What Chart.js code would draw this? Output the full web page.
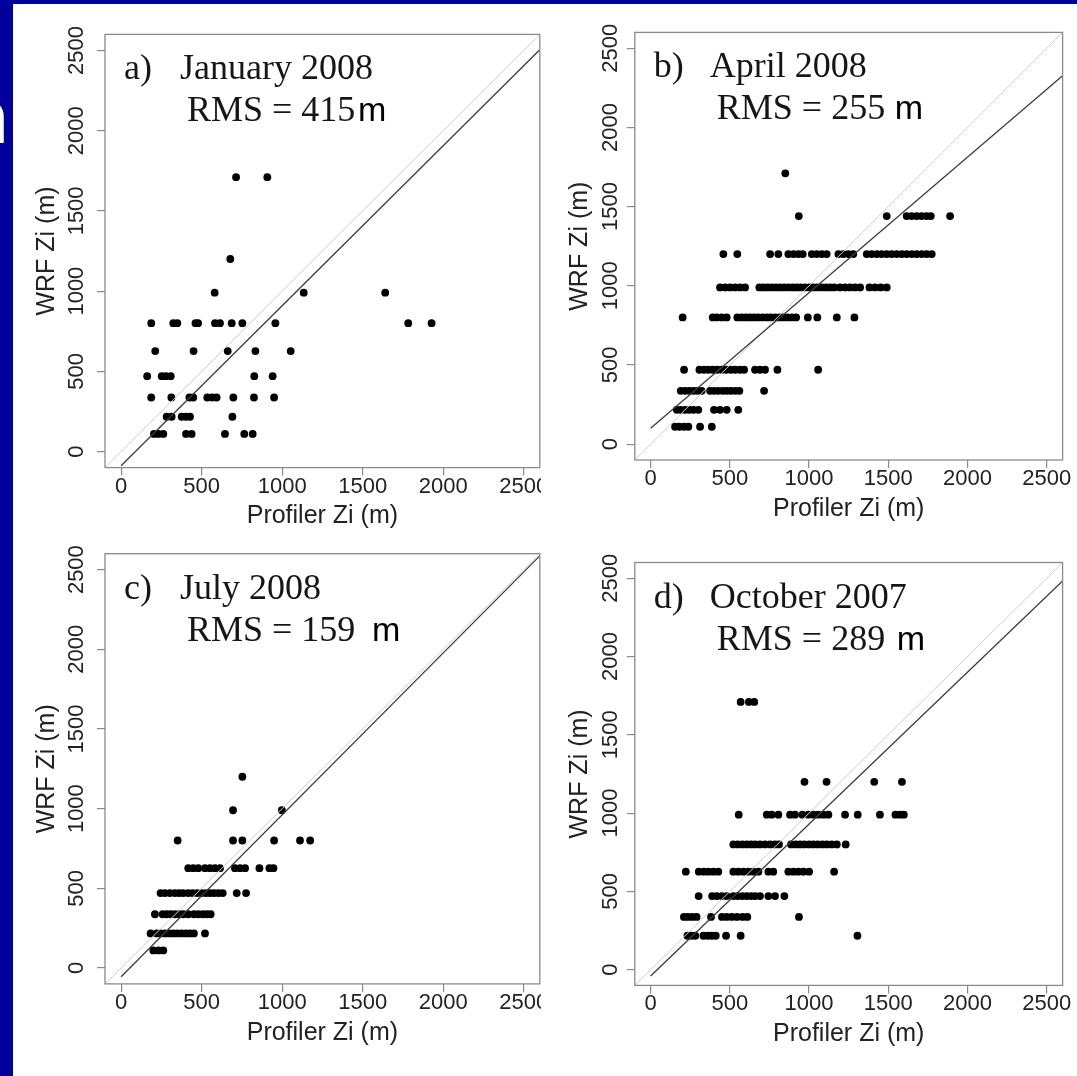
<!DOCTYPE html>
<html>
<head>
<meta charset="utf-8">
<title>WRF Zi vs profiler Zi</title>
<script src="https://cdn.jsdelivr.net/npm/chart.js@4.4.1/dist/chart.umd.min.js"></script>
<style>
  html, body { margin: 0; padding: 0; }
  body { width: 1077px; height: 1076px; background: #00009c; position: relative; overflow: hidden; }
  .slide-letter { position: absolute; left: -38px; top: 79px; font: bold 76px/76px "Liberation Sans", Arial, sans-serif; color: #fff; }
  .sheet { position: absolute; left: 13px; top: 4px; right: 0; bottom: 0; background: #fff; }
  .panel { position: absolute; overflow: hidden; background: #fff; }
  .panel canvas { display: block; }
</style>
</head>
<body>
<div class="slide-letter">n</div>
<div class="sheet"></div>
<script>
// axis range and tick marks shared by all four panels
const axisMin = -100;
const axisMax = 2600;
const tickValues = [0, 500, 1000, 1500, 2000, 2500];

// [profiler Zi, WRF Zi] in metres
const january = [
  [714, 1710], [908, 1710],
  [678, 1200],
  [581, 990], [1134, 990], [1640, 990],
  [187, 800], [324, 800], [349, 800], [462, 800], [478, 800], [583, 800], [614, 800], [687, 800], [753, 800], [958, 800], [1783, 800], [1928, 800],
  [212, 626], [450, 626], [662, 626], [834, 626], [1053, 626],
  [162, 470], [252, 470], [278, 470], [308, 470], [827, 470], [941, 470],
  [187, 337], [312, 337], [424, 337], [448, 337], [535, 337], [566, 337], [593, 337], [697, 337], [825, 337], [950, 337],
  [283, 217], [314, 217], [376, 217], [403, 217], [428, 217], [691, 217],
  [204, 110], [231, 110], [262, 110], [403, 110], [438, 110], [645, 110], [765, 110], [817, 110]
];

const april = [
  [850, 1710],
  [935, 1440], [1490, 1440], [1616, 1440], [1647, 1440], [1679, 1440], [1710, 1440], [1742, 1440], [1768, 1440], [1890, 1440],
  [459, 1200], [547, 1200], [754, 1200], [806, 1200], [869, 1200], [901, 1200], [932, 1200], [960, 1200], [1017, 1200], [1048, 1200],
  [1080, 1200], [1111, 1200], [1185, 1200], [1216, 1200], [1248, 1200], [1279, 1200], [1364, 1200], [1395, 1200], [1427, 1200], [1458, 1200],
  [1490, 1200], [1521, 1200], [1553, 1200], [1585, 1200], [1616, 1200], [1648, 1200], [1679, 1200], [1711, 1200], [1742, 1200], [1774, 1200],
  [438, 990], [470, 990], [501, 990], [533, 990], [564, 990], [596, 990], [686, 990], [711, 990], [737, 990], [764, 990],
  [791, 990], [817, 990], [842, 990], [869, 990], [897, 990], [922, 990], [947, 990], [974, 990], [1002, 990], [1027, 990],
  [1052, 990], [1080, 990], [1107, 990], [1132, 990], [1158, 990], [1195, 990], [1227, 990], [1258, 990], [1290, 990], [1322, 990],
  [1381, 990], [1416, 990], [1452, 990], [1490, 990],
  [202, 800], [392, 800], [417, 800], [449, 800], [480, 800], [547, 800], [575, 800], [602, 800], [627, 800], [653, 800],
  [680, 800], [707, 800], [733, 800], [758, 800], [785, 800], [812, 800], [838, 800], [863, 800], [891, 800], [918, 800],
  [992, 800], [1052, 800], [1175, 800], [1286, 800],
  [211, 470], [308, 470], [337, 470], [364, 470], [392, 470], [421, 470], [449, 470], [476, 470], [506, 470], [533, 470],
  [564, 470], [590, 470], [659, 470], [690, 470], [722, 470], [800, 470], [1057, 470],
  [190, 337], [217, 337], [244, 337], [270, 337], [295, 337], [322, 337], [375, 337], [400, 337], [427, 337], [455, 337],
  [480, 337], [506, 337], [533, 337], [560, 337], [716, 337],
  [165, 217], [190, 217], [217, 217], [244, 217], [270, 217], [301, 217], [400, 217], [438, 217], [480, 217], [553, 217],
  [154, 110], [181, 110], [211, 110], [238, 110], [312, 110], [386, 110]
];

const july = [
  [753, 1200],
  [695, 990], [998, 990],
  [351, 800], [695, 800], [753, 800], [950, 800], [1111, 800], [1174, 800],
  [417, 626], [448, 626], [479, 626], [521, 626], [552, 626], [583, 626], [614, 626], [707, 626], [739, 626], [770, 626],
  [859, 626], [921, 626], [946, 626],
  [245, 470], [272, 470], [303, 470], [334, 470], [361, 470], [386, 470], [417, 470], [444, 470], [473, 470], [500, 470],
  [527, 470], [552, 470], [577, 470], [604, 470], [631, 470], [718, 470], [776, 470],
  [210, 337], [258, 337], [283, 337], [308, 337], [334, 337], [361, 337], [386, 337], [417, 337], [452, 337], [479, 337],
  [507, 337], [531, 337], [556, 337],
  [183, 217], [221, 217], [245, 217], [272, 217], [299, 217], [324, 217], [349, 217], [376, 217], [403, 217], [428, 217],
  [452, 217], [521, 217],
  [200, 110], [232, 110], [262, 110]
];

const october = [
  [568, 1710], [620, 1710], [654, 1710],
  [971, 1200], [1110, 1200], [1411, 1200], [1586, 1200],
  [556, 990], [733, 990], [764, 990], [806, 990], [880, 990], [911, 990], [958, 990], [995, 990], [1027, 990], [1058, 990],
  [1090, 990], [1122, 990], [1227, 990], [1307, 990], [1447, 990], [1545, 990], [1574, 990], [1598, 990],
  [522, 800], [550, 800], [579, 800], [607, 800], [634, 800], [659, 800], [690, 800], [722, 800], [754, 800], [785, 800],
  [810, 800], [886, 800], [916, 800], [943, 800], [970, 800], [1000, 800], [1027, 800], [1055, 800], [1084, 800], [1111, 800],
  [1143, 800], [1175, 800], [1231, 800],
  [222, 626], [304, 626], [335, 626], [365, 626], [396, 626], [427, 626], [522, 626], [553, 626], [585, 626], [617, 626],
  [648, 626], [680, 626], [743, 626], [774, 626], [869, 626], [901, 626], [932, 626], [964, 626], [1000, 626], [1158, 626],
  [303, 470], [388, 470], [417, 470], [449, 470], [480, 470], [522, 470], [550, 470], [579, 470], [607, 470], [634, 470],
  [659, 470], [690, 470], [743, 470], [785, 470], [844, 470],
  [210, 337], [235, 337], [262, 337], [290, 337], [381, 337], [450, 337], [480, 337], [512, 337], [545, 337], [580, 337],
  [610, 337], [936, 337],
  [232, 217], [258, 217], [282, 217], [333, 217], [360, 217], [385, 217], [411, 217], [476, 217], [568, 217], [1305, 217]
];

const panelData = [january, april, july, october];
const panelTags = ['a)', 'b)', 'c)', 'd)'];
const monthLabels = ['January 2008', 'April 2008', 'July 2008', 'October 2007'];
const rmsValues = [415, 255, 159, 289];
// least-squares fit of WRF on profiler, drawn from x = 0
const fitIntercept = [-88, 100, -55, -40];
const fitSlope = [0.997, 0.856, 1.016, 0.97];

// where each panel sits on the page; area = plot box inside the canvas
const layout = [
  { left: 13, top: 4, width: 528, height: 536, canvasWidth: 560, area: [92, 30.4, 526.8, 463.6], tickGap: 28.5, titleGap: 58, unitX: 253 },
  { left: 541, top: 4, width: 536, height: 536, canvasWidth: 536, area: [93.8, 28.4, 521.6, 456], tickGap: 24, titleGap: 55, unitX: 260 },
  { left: 13, top: 540, width: 528, height: 536, canvasWidth: 560, area: [92, 13.7, 526.8, 443.9], tickGap: 28, titleGap: 58, unitX: 267 },
  { left: 541, top: 540, width: 536, height: 536, canvasWidth: 536, area: [93.8, 22.5, 521.6, 445.4], tickGap: 24, titleGap: 55, unitX: 262 }
];

const sans = '"Liberation Sans", Arial, sans-serif';
const serif = '"Liberation Serif", "Times New Roman", serif';
const tickFontSize = 22;
const titleFontSize = 25;
const tickLength = 8;

const probe = document.createElement('canvas').getContext('2d');
probe.font = tickFontSize + 'px ' + sans;
const halfTickLabel = probe.measureText('2500').width / 2;

// box around the plot region plus the month / RMS annotation
const panelFrame = {
  id: 'panelFrame',
  afterDatasetsDraw(chart, args, opts) {
    const { ctx } = chart;
    const { left, top, right, bottom } = chart.chartArea;
    ctx.save();
    ctx.strokeStyle = '#8a8a8a';
    ctx.lineWidth = 1.3;
    ctx.strokeRect(left, top, right - left, bottom - top);
    ctx.fillStyle = '#161616';
    ctx.textBaseline = 'alphabetic';
    ctx.textAlign = 'left';
    ctx.font = '36px ' + serif;
    ctx.fillText(opts.tag, left + 19, top + 45);
    ctx.fillText(opts.month, left + 75, top + 45);
    ctx.fillText('RMS = ' + opts.rms, left + 82, top + 87);
    ctx.fillStyle = '#000';
    ctx.font = '34px ' + sans;
    ctx.fillText('m', left + opts.unitX, top + 87);
    ctx.restore();
  }
};

const setTicks = scale => {
  scale.ticks = tickValues.map(value => ({ value }));
};

layout.forEach((cfg, i) => {
  const holder = document.createElement('div');
  holder.className = 'panel';
  holder.style.left = cfg.left + 'px';
  holder.style.top = cfg.top + 'px';
  holder.style.width = cfg.width + 'px';
  holder.style.height = cfg.height + 'px';
  const canvas = document.createElement('canvas');
  canvas.width = cfg.canvasWidth;
  canvas.height = cfg.height;
  canvas.style.width = cfg.canvasWidth + 'px';
  canvas.style.height = cfg.height + 'px';
  holder.appendChild(canvas);
  document.body.appendChild(holder);

  const [areaLeft, areaTop, areaRight, areaBottom] = cfg.area;
  const xAxisHeight = cfg.height - areaBottom;

  const oneToOne = [{ x: axisMin, y: axisMin }, { x: axisMax, y: axisMax }];
  const fitLine = [0, axisMax].map(x => ({ x, y: fitIntercept[i] + fitSlope[i] * x }));

  const tickFont = { family: sans, size: tickFontSize, lineHeight: 1 };
  const titleFont = { family: sans, size: titleFontSize, lineHeight: 1 };
  const grid = { drawOnChartArea: false, drawTicks: true, tickLength: tickLength, color: '#8a8a8a', lineWidth: 1.2 };

  new Chart(canvas, {
    type: 'scatter',
    data: {
      datasets: [
        {
          data: fitLine, showLine: true, borderColor: '#3c3c3c', borderWidth: 1.3,
          pointRadius: 0, order: 1
        },
        {
          data: oneToOne, showLine: true, borderColor: '#cdcdcd', borderWidth: 1,
          pointRadius: 0, order: 2
        },
        {
          data: panelData[i].map(([x, y]) => ({ x, y })),
          pointRadius: 3.9, pointBackgroundColor: '#000', pointBorderWidth: 0,
          showLine: false, order: 3
        }
      ]
    },
    options: {
      responsive: false,
      animation: false,
      devicePixelRatio: 1,
      layout: { padding: { left: 0, top: areaTop, right: cfg.canvasWidth - areaRight, bottom: 0 } },
      plugins: {
        legend: { display: false },
        tooltip: { enabled: false },
        panelFrame: { tag: panelTags[i], month: monthLabels[i], rms: rmsValues[i], unitX: cfg.unitX }
      },
      scales: {
        x: {
          type: 'linear', position: 'bottom', min: axisMin, max: axisMax, bounds: 'data',
          afterBuildTicks: setTicks,
          afterFit: s => { s.height = xAxisHeight; s.paddingLeft = 0; s.paddingRight = 0; },
          ticks: { autoSkip: false, maxRotation: 0, padding: 0, color: '#222', font: tickFont, callback: v => String(v) },
          grid: grid,
          border: { display: false },
          title: {
            display: true, text: 'Profiler Zi (m)', color: '#222', font: titleFont,
            padding: { top: 0, bottom: cfg.height - (areaBottom + 49) - titleFontSize / 2 }
          }
        },
        y: {
          type: 'linear', position: 'left', min: axisMin, max: axisMax, bounds: 'data',
          afterBuildTicks: setTicks,
          afterFit: s => { s.width = areaLeft; s.paddingTop = 0; s.paddingBottom = 0; },
          ticks: {
            autoSkip: false, minRotation: 90, maxRotation: 90, crossAlign: 'center',
            padding: cfg.tickGap - tickLength - halfTickLabel,
            color: '#222', font: tickFont, callback: v => String(v)
          },
          grid: grid,
          border: { display: false },
          title: {
            display: true, text: 'WRF Zi (m)', color: '#222', font: titleFont,
            padding: { top: areaLeft - cfg.titleGap - titleFontSize / 2, bottom: 0 }
          }
        }
      }
    },
    plugins: [panelFrame]
  });
});
</script>
</body>
</html>
